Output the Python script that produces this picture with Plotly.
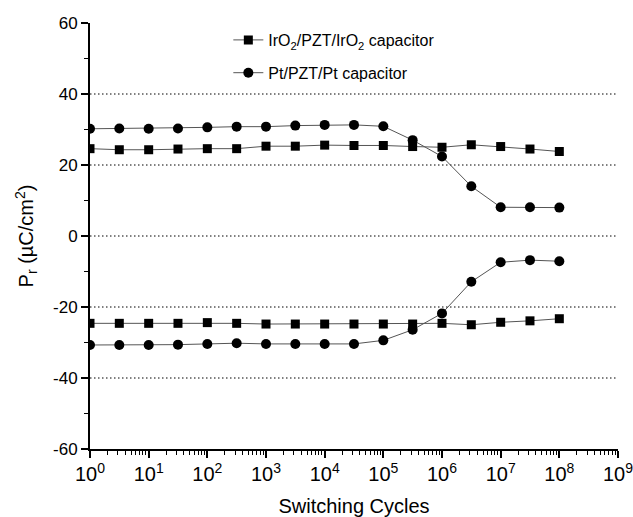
import plotly.graph_objects as go

# Switching cycles (half-decade steps from 1 to 1e8)
cycles = [1, 3.16, 10, 31.6, 100, 316, 1e3, 3.16e3, 1e4, 3.16e4,
          1e5, 3.16e5, 1e6, 3.16e6, 1e7, 3.16e7, 1e8]

# Remanent polarization, IrO2/PZT/IrO2 capacitor (positive and negative branches)
iro2_pos = [24.6, 24.3, 24.3, 24.5, 24.6, 24.6, 25.3, 25.3, 25.6, 25.5,
            25.5, 25.2, 25.0, 25.7, 25.2, 24.5, 23.8]
iro2_neg = [-24.6, -24.6, -24.6, -24.6, -24.4, -24.6, -24.8, -24.8, -24.8, -24.8,
            -24.8, -24.8, -24.6, -25.0, -24.3, -23.9, -23.3]

# Remanent polarization, Pt/PZT/Pt capacitor
pt_pos = [30.2, 30.3, 30.2, 30.3, 30.6, 30.8, 30.8, 31.1, 31.3, 31.3,
          30.9, 27.0, 22.4, 14.0, 8.1, 8.1, 8.0]
pt_neg = [-30.7, -30.7, -30.7, -30.6, -30.4, -30.2, -30.4, -30.4, -30.4, -30.4,
          -29.4, -26.4, -21.8, -12.9, -7.4, -6.8, -7.1]

# Axis ticks: decade labels written as powers of ten
x_label_alias = {"1": "10<sup>0</sup>", "10": "10<sup>1</sup>"}
y_tickvals = [-60, -40, -20, 0, 20, 40, 60]
y_ticktext = ["-60", "-40", "-20", "0", "20", "40", "60"]
grid_levels = [-40, -20, 0, 20, 40]

line_style = dict(color="#555555", width=1)
font_family = "Liberation Sans, Arial, sans-serif"

fig = go.Figure()

# IrO2 capacitor: squares
fig.add_trace(go.Scatter(
    x=cycles, y=iro2_pos, mode="lines+markers",
    name="IrO<sub>2</sub>/PZT/IrO<sub>2</sub> capacitor",
    legendgroup="iro2",
    line=line_style,
    marker=dict(symbol="square", size=9, color="black"),
))
fig.add_trace(go.Scatter(
    x=cycles, y=iro2_neg, mode="lines+markers",
    legendgroup="iro2", showlegend=False,
    line=line_style,
    marker=dict(symbol="square", size=9, color="black"),
))

# Pt capacitor: circles
fig.add_trace(go.Scatter(
    x=cycles, y=pt_pos, mode="lines+markers",
    name="Pt/PZT/Pt capacitor",
    legendgroup="pt",
    line=line_style,
    marker=dict(symbol="circle", size=10, color="black"),
))
fig.add_trace(go.Scatter(
    x=cycles, y=pt_neg, mode="lines+markers",
    legendgroup="pt", showlegend=False,
    line=line_style,
    marker=dict(symbol="circle", size=10, color="black"),
))

# Dotted horizontal reference lines
for g in grid_levels:
    fig.add_shape(type="line", xref="paper", x0=0, x1=1, yref="y", y0=g, y1=g,
                  line=dict(color="black", width=1, dash="1.5px,2.5px"), layer="below")

fig.update_layout(
    width=633, height=517,
    margin=dict(l=90, r=15, t=23, b=68),
    paper_bgcolor="white", plot_bgcolor="white",
    font=dict(family=font_family, size=16, color="black"),
    legend=dict(
        x=0.262, y=1.0, xanchor="left", yanchor="top",
        bgcolor="rgba(0,0,0,0)", tracegroupgap=9,
        font=dict(size=16),
    ),
    xaxis=dict(
        type="log", range=[0, 9],
        tickmode="linear", tick0=0, dtick=1,
        exponentformat="power", showexponent="all",
        labelalias=x_label_alias, ticklabeloverflow="allow",
        showline=True, linecolor="black", linewidth=2,
        ticks="outside", ticklen=7, tickwidth=1.5, tickcolor="black",
        minor=dict(dtick="D1", ticks="outside", ticklen=4, tickwidth=1,
                   tickcolor="black", showgrid=False),
        showgrid=False, zeroline=False, mirror=False, automargin=False,
        title=dict(text="Switching Cycles", font=dict(size=20), standoff=20),
        tickfont=dict(size=16),
    ),
    yaxis=dict(
        range=[-60, 60], tickmode="array", tickvals=y_tickvals, ticktext=y_ticktext,
        showline=True, linecolor="black", linewidth=2,
        ticks="outside", ticklen=7, tickwidth=1.5, tickcolor="black",
        minor=dict(dtick=10, ticks="outside", ticklen=4, tickwidth=1,
                   tickcolor="black", showgrid=False),
        showgrid=False, zeroline=False, mirror=False, automargin=False,
        title=dict(text="P<sub>r</sub> (µC/cm<sup>2</sup>)", font=dict(size=20), standoff=14),
        tickfont=dict(size=17),
    ),
)

fig.write_html("out.html")
